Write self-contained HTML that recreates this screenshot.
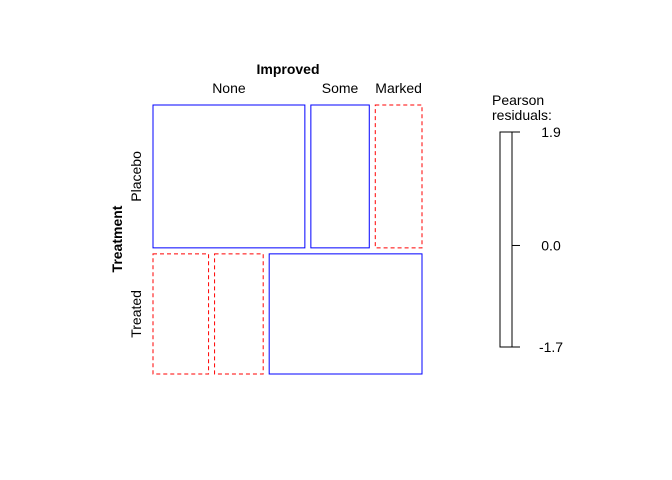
<!DOCTYPE html>
<html><head><meta charset="utf-8">
<style>body{margin:0;background:#fff}svg{display:block;font-family:"Liberation Sans",Arial,sans-serif}</style>
</head><body>
<svg id="chart" width="672" height="480" viewBox="0 0 672 480">
<rect width="672" height="480" fill="#fff"/>
<text x="288" y="74" font-size="14" font-weight="bold" text-anchor="middle">Improved</text>
<text transform="translate(122,239) rotate(-90)" font-size="14" font-weight="bold" text-anchor="middle">Treatment</text>
<g id="cells"></g>
<g id="legend">
<text x="492" y="105" font-size="14">Pearson</text>
<text x="492" y="120" font-size="14">residuals:</text>
<rect x="500" y="132" width="12" height="215" fill="none" stroke="#000" stroke-width="1"/>
</g>
</svg>
<script>
const rows = ["Placebo","Treated"];
const cols = ["None","Some","Marked"];
const countsPlacebo = [26,10,8];
const countsTreated = [8,7,22];
const signPlacebo = [1,1,-1];
const signTreated = [-1,-1,1];
const legendTicks = [1.9,0.0,-1.7];
const legendLabels = ["1.9","0.0","-1.7"];

const NS="http://www.w3.org/2000/svg";
const svg=document.getElementById('chart');
const cells=document.getElementById('cells');
const x0=153,x1=422,y0=105,y1=374,gap=6;
const counts=[countsPlacebo,countsTreated], signs=[signPlacebo,signTreated];
const rowTot=counts.map(r=>r.reduce((a,b)=>a+b,0));
const grand=rowTot[0]+rowTot[1];
const H=(y1-y0)-gap;
let y=y0;
rows.forEach((rn,i)=>{
  const h=rowTot[i]/grand*H;
  const W=(x1-x0)-gap*(cols.length-1);
  let x=x0;
  counts[i].forEach((c,j)=>{
    const w=c/rowTot[i]*W;
    const r=document.createElementNS(NS,'rect');
    r.setAttribute('x',x);r.setAttribute('y',y);r.setAttribute('width',w);r.setAttribute('height',h);
    r.setAttribute('fill','none');
    const pos=signs[i][j]>0;
    r.setAttribute('stroke',pos?'#0000ff':'#ff0000');
    if(!pos) r.setAttribute('stroke-dasharray','4,3');
    
    
    cells.appendChild(r);
    if(i===0){
      const t=document.createElementNS(NS,'text');
      t.setAttribute('x',x+w/2);t.setAttribute('y',93);t.setAttribute('font-size','14');t.setAttribute('text-anchor','middle');
      t.textContent=cols[j];
      
      
      svg.appendChild(t);
    }
    x+=w+gap;
  });
  const t=document.createElementNS(NS,'text');
  t.setAttribute('transform','translate(141,'+(y+h/2)+') rotate(-90)');
  t.setAttribute('font-size','14');t.setAttribute('text-anchor','middle');
  t.textContent=rn;
  
  
  svg.appendChild(t);
  y+=h+gap;
});
const lg=document.getElementById('legend');
const vmax=legendTicks[0], vmin=legendTicks[legendTicks.length-1];
const ly=v=>132+(vmax-v)/(vmax-vmin)*215;
legendTicks.forEach((v,k)=>{
  const yy=ly(v);
  const l=document.createElementNS(NS,'line');
  l.setAttribute('x1',512);l.setAttribute('x2',520);l.setAttribute('y1',yy);l.setAttribute('y2',yy);l.setAttribute('stroke','#000');
  
  
  lg.appendChild(l);
  const t=document.createElementNS(NS,'text');
  t.setAttribute('x',551);t.setAttribute('y',yy+5);t.setAttribute('font-size','14');t.setAttribute('text-anchor','middle');
  t.textContent=legendLabels[k];
  
  
  lg.appendChild(t);
});
</script>
</body></html>
